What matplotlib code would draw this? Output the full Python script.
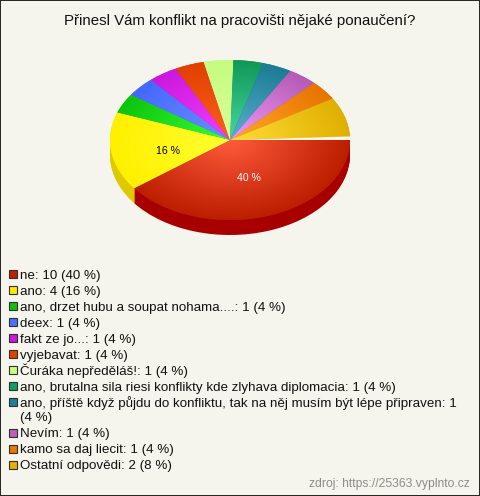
import numpy as np
import matplotlib
matplotlib.use('Agg')
import matplotlib.pyplot as plt
from matplotlib.colors import LinearSegmentedColormap
from matplotlib.patches import Rectangle, Wedge

plt.rcParams['font.family'] = ['Liberation Sans', 'DejaVu Sans']

title = 'Přinesl Vám konflikt na pracovišti nějaké ponaučení?'
source = 'zdroj: https://25363.vyplnto.cz'
names = ['ne', 'ano', 'ano, drzet hubu a soupat nohama....', 'deex', 'fakt ze jo...', 'vyjebavat',
         'Čuráka nepředěláš!', 'ano, brutalna sila riesi konflikty kde zlyhava diplomacia',
         'ano, příště když půjdu do konfliktu, tak na něj musím být lépe připraven', 'Nevím',
         'kamo sa daj liecit', 'Ostatní odpovědi']
counts = [10, 4, 1, 1, 1, 1, 1, 1, 1, 1, 1, 2]
percents = [40, 16, 4, 4, 4, 4, 4, 4, 4, 4, 4, 8]

# barvy: stred kolace, okraj kolace, bok
inner = ['#ff5a3c', '#ffff30', '#38ff38', '#6c90ff', '#f040ff', '#ff6020',
         '#dcff98', '#48d8a0', '#58b0d0', '#f098f8', '#ffa828', '#ffdc38']
outer = ['#bc1e00', '#fff000', '#0cc40c', '#4468ff', '#cc18dc', '#e04000',
         '#c4fc80', '#109858', '#1c7c94', '#b45cb4', '#e87400', '#e0b000']
side = ['#a80000', '#e0c800', '#0ca00c', '#3050d0', '#a010b0', '#b03000',
        '#a0d060', '#0c7844', '#145f70', '#904890', '#b85c00', '#b08c00']
legend_cols = ['#c02000', '#ffe800', '#10c010', '#4c70ff', '#cc18d8', '#e04000',
               '#c8ff80', '#10a060', '#208098', '#bc60bc', '#e87800', '#e8b000']

W, H = 480, 496
cx, cy, rx, ry, depth = 230, 140, 120, 80, 15
bg = '#f5f5ed'
# kolac v originale neni uplne zavreny, zbyva mala mezera
gap_deg = 2.6
fracs = np.array(counts) / sum(counts) * (1 - gap_deg / 360)

fig = plt.figure(figsize=(W / 100, H / 100), dpi=100, facecolor=bg)
ax = fig.add_axes([0, 0, 1, 1])

# bok kolace - stejny kolac posunuty dolu
for d in range(depth, 0, -1):
    ax.pie(fracs, colors=side, startangle=0, counterclock=False, radius=1, center=(0, -d / ry),
           normalize=False, wedgeprops={'linewidth': 0})

wedges, texts, autotexts = ax.pie(fracs, colors=outer, startangle=0, counterclock=False, radius=1,
                                  normalize=False,
                                  autopct=lambda p: '%d %%' % round(p) if p > 10 else '',
                                  pctdistance=0.5, wedgeprops={'linewidth': 0},
                                  textprops={'fontsize': 7.6})
autotexts[0].set_color('white')
autotexts[1].set_color('black')
# popisek 16 % sedi v originale o kousek niz
px, py = autotexts[1].get_position()
autotexts[1].set_position((px - 3 / rx, py - 5 / ry))
for t in autotexts:
    t.set_zorder(10)

# radialni prechod v kazde vysece
gx, gy = np.meshgrid(np.linspace(-1, 1, 400), np.linspace(-1, 1, 400))
rr = np.sqrt(gx ** 2 + gy ** 2)
for i, w in enumerate(wedges):
    cmap = LinearSegmentedColormap.from_list('w%d' % i, [inner[i], outer[i]])
    ax.imshow(rr, extent=(-1, 1, -1, 1), origin='lower', cmap=cmap, vmin=0, vmax=1,
              clip_path=w, aspect='auto', zorder=3, interpolation='bilinear')

# svetla mezera nad cervenou vyseci
ax.add_patch(Wedge((0, 0), 1.0, 0, gap_deg, facecolor='#fbf8e8', edgecolor='none', zorder=4))

ax.set_xlim(-cx / rx, (W - cx) / rx)
ax.set_ylim(-(H - cy) / ry, cy / ry)
ax.set_aspect('auto')
ax.axis('off')

def fy(y):
    return 1 - y / H

fig.text(240 / W, fy(21), title, ha='center', va='center', fontsize=10.85, color='#111111')

y = 274
for name, n, p, c in zip(names, counts, percents, legend_cols):
    label = '%s: %d (%d %%)' % (name, n, p)
    fig.add_artist(Rectangle((9.3 / W, fy(y + 3.7)), 7.4 / W, 7.4 / H, transform=fig.transFigure,
                             facecolor=c, edgecolor='#303030', linewidth=0.8))
    if len(label) > 80:
        # dlouhy radek se zalomi
        head, tail = label.rsplit(' (', 1)
        fig.text(20 / W, fy(y + 4.5), head, va='baseline', fontsize=9.63, color='#111111')
        y += 15
        fig.text(20 / W, fy(y + 4.5), '(' + tail, va='baseline', fontsize=9.63, color='#111111')
        y += 16
    else:
        fig.text(20 / W, fy(y + 4.5), label, va='baseline', fontsize=9.63, color='#111111')
        y += 16

fig.text(470 / W, fy(484), source, ha='right', va='center', fontsize=8.7, color='#8c8c8c')

fig.add_artist(Rectangle((0, 0), 1, 1, transform=fig.transFigure, facecolor='none',
                         edgecolor='#222222', linewidth=1.4))

plt.savefig('out.png', dpi=100, facecolor=bg)
